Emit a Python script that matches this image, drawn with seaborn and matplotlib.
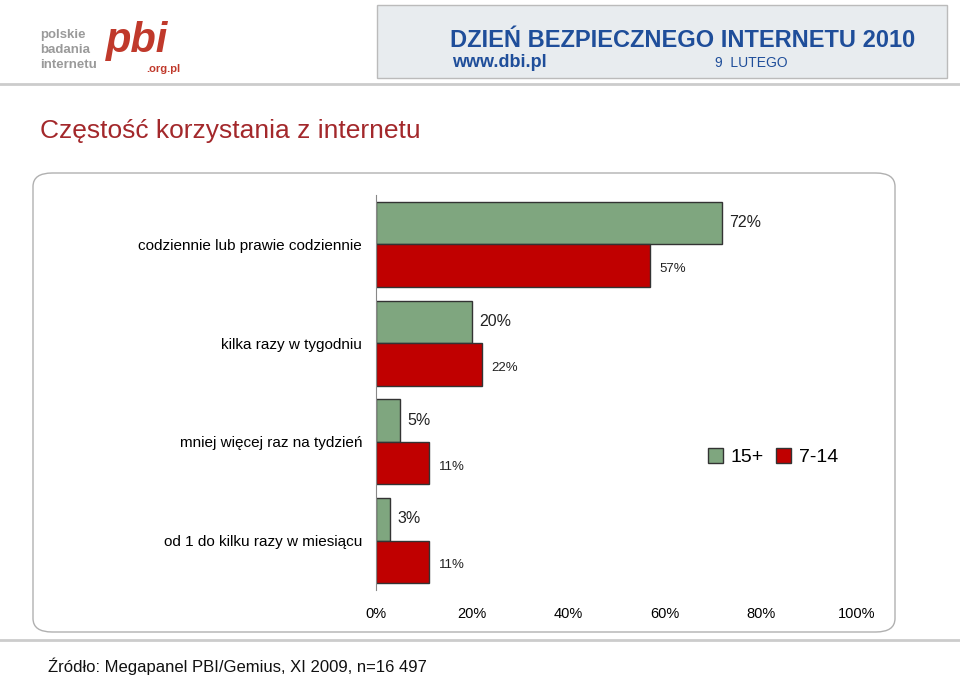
import matplotlib
matplotlib.use("Agg")
import matplotlib.pyplot as plt
from matplotlib.patches import FancyBboxPatch, Rectangle
import seaborn as sns
import pandas as pd

categories = ["codziennie lub prawie codziennie", "kilka razy w tygodniu",
              "mniej więcej raz na tydzień", "od 1 do kilku razy w miesiącu"]
series_names = ["15+", "7-14"]
values_15 = [72, 20, 5, 3]
values_7_14 = [57, 22, 11, 11]
tick_labels = ["0%", "20%", "40%", "60%", "80%", "100%"]

df = pd.DataFrame({
    "cat": categories * 2,
    "grp": [series_names[0]] * 4 + [series_names[1]] * 4,
    "val": values_15 + values_7_14,
})

plt.rcParams["font.family"] = "Liberation Sans"
W, H = 960, 677
fig = plt.figure(figsize=(W / 100, H / 100), dpi=100)
fig.patch.set_facecolor("white")

def fx(x): return x / W
def fy(y): return 1 - y / H

# header logos (approximated)
fig.text(fx(40), fy(38), "polskie", fontsize=9.5, color="#9a9a9a", weight="bold")
fig.text(fx(40), fy(53), "badania", fontsize=9.5, color="#9a9a9a", weight="bold")
fig.text(fx(40), fy(68), "internetu", fontsize=9.5, color="#9a9a9a", weight="bold")
fig.text(fx(106), fy(52), "pbi", fontsize=30, color="#c0392b", weight="bold", style="italic")
fig.text(fx(146), fy(72), ".org.pl", fontsize=8, color="#c0392b", weight="bold")
fig.patches.append(Rectangle((fx(377), fy(78)), fx(570), 73 / H, transform=fig.transFigure,
                             facecolor="#e8ecef", edgecolor="#bbbbbb", lw=1))
fig.text(fx(450), fy(47), "DZIEŃ BEZPIECZNEGO INTERNETU 2010", fontsize=17, color="#1f4e9a",
         weight="bold")
fig.text(fx(452), fy(67), "www.dbi.pl", fontsize=13, color="#1f4e9a", weight="bold")
fig.text(fx(715), fy(67), "9  LUTEGO", fontsize=10, color="#1f4e9a")
fig.add_artist(plt.Line2D([0, 1], [fy(84), fy(84)], color="#cccccc", lw=2))
fig.add_artist(plt.Line2D([0, 1], [fy(640), fy(640)], color="#cccccc", lw=2))

fig.text(fx(40), fy(131), "Częstość korzystania z internetu", fontsize=19, color="#a3282b",
         va="center")

box = FancyBboxPatch((fx(33), fy(632)), fx(862), 459 / H, transform=fig.transFigure,
                     boxstyle="round,pad=0,rounding_size=0.02",
                     facecolor="white", edgecolor="#b0b0b0", lw=1, zorder=-5)
fig.patches.append(box)

ax = fig.add_axes([fx(376), fy(590), fx(481), 395 / H])
ax.set_zorder(2)
ax.patch.set_alpha(0)
sns.barplot(data=df, y="cat", x="val", hue="grp", orient="h", ax=ax,
            palette=["#7fa67f", "#c00000"], edgecolor="#333333", linewidth=1,
            width=0.86, saturation=1, legend=True)
ax.set_xlim(0, 100)
ax.set_xticks([0, 20, 40, 60, 80, 100])
ax.set_xticklabels(tick_labels, fontsize=10.5)
ax.set_xlabel(""); ax.set_ylabel("")
ax.tick_params(axis="x", length=0, pad=12)
ax.tick_params(axis="y", length=0, labelsize=11, pad=10)
for s in ["top", "right", "bottom"]:
    ax.spines[s].set_visible(False)
ax.spines["left"].set_color("#888888")

for i, (g, r) in enumerate(zip(values_15, values_7_14)):
    ax.text(g + 1.5, i - 0.22, f"{g}%", fontsize=11.5, va="center", ha="left", color="#222222")
    ax.text(r + 2.0, i + 0.25, f"{r}%", fontsize=9.5, va="center", ha="left", color="#222222")

ax.legend(loc="center left", bbox_to_anchor=((690 - 376) / 481, 1 - (457 - 195) / 395),
          frameon=False, ncol=2, fontsize=14, handlelength=0.8, handleheight=0.8,
          columnspacing=0.6, handletextpad=0.4)

fig.text(fx(48), fy(666), "Źródło: Megapanel PBI/Gemius, XI 2009, n=16 497", fontsize=12,
         va="center", color="#111111")

fig.savefig("out.png", dpi=100)
